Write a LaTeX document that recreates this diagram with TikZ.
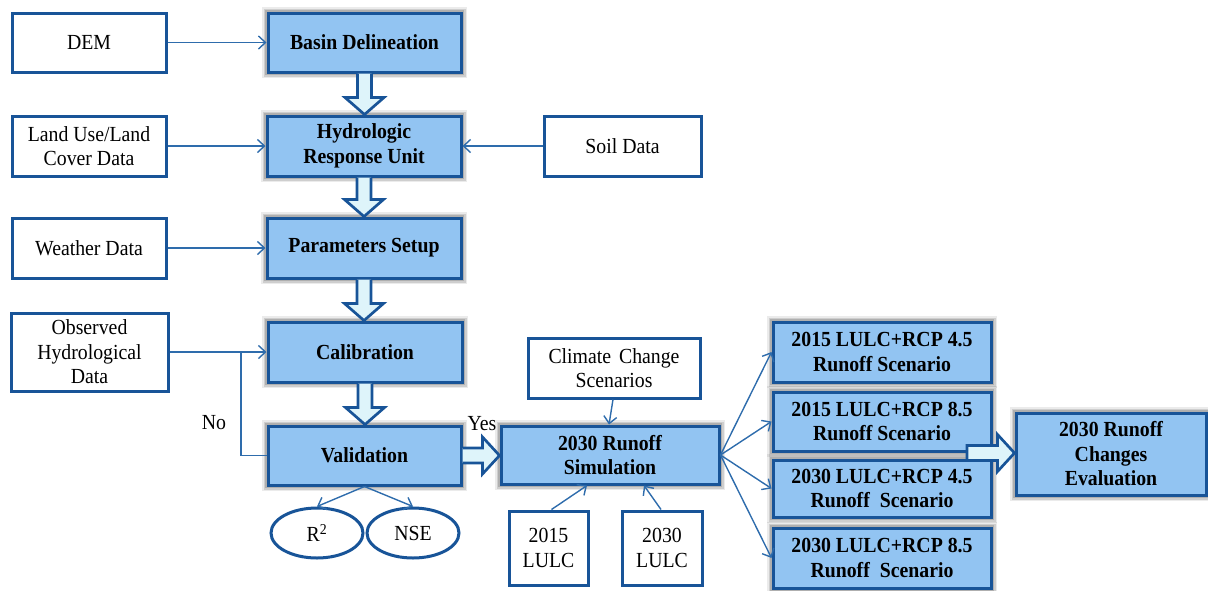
\documentclass[tikz,border=0pt]{standalone}
\usepackage{fontspec}
\setmainfont{Liberation Serif}[FakeStretch=0.92]
\usetikzlibrary{arrows.meta,calc,shapes.geometric}
\definecolor{bdr}{RGB}{24,84,152}
\definecolor{bfill}{RGB}{146,196,242}
\definecolor{afill}{RGB}{222,244,250}
\definecolor{lncol}{RGB}{46,108,172}
\newcommand{\fatdown}[2]{%
  \draw[fat] let \p1=(#1.south), \p2=(#2.north) in
    (\x1-7pt,\y1) -- (\x1-7pt,\y2+17pt) -- (\x1-19.5pt,\y2+17pt) -- (\x1,\y2)
    -- (\x1+19.5pt,\y2+17pt) -- (\x1+7pt,\y2+17pt) -- (\x1+7pt,\y1);}
\newcommand{\fatright}[2]{%
  \draw[fat] let \p1=(#1), \p2=(#2) in
    (\x1,\y1+7.5pt) -- (\x2-17pt,\y1+7.5pt) -- (\x2-17pt,\y1+18.5pt) -- (\x2,\y1)
    -- (\x2-17pt,\y1-18.5pt) -- (\x2-17pt,\y1-7.5pt) -- (\x1,\y1-7.5pt);}
\newcommand{\fatrightc}[2]{%
  \draw[fat] let \p1=(#1), \p2=(#2) in
    (\x1,\y1+7.5pt) -- (\x2-17pt,\y1+7.5pt) -- (\x2-17pt,\y1+18.5pt) -- (\x2,\y1)
    -- (\x2-17pt,\y1-18.5pt) -- (\x2-17pt,\y1-7.5pt) -- (\x1,\y1-7.5pt) -- cycle;}
\begin{document}
\begin{tikzpicture}[x=1pt,y=-1pt,
  every node/.style={font=\fontsize{21.5}{24.5}\selectfont, align=center, inner sep=0pt},
  wbox/.style={draw=bdr, line width=3pt, fill=white},
  bbox/.style={draw=bdr, line width=3pt, fill=bfill,
    font=\fontsize{21.5}{24.5}\selectfont\bfseries,
    preaction={draw=black, draw opacity=0.08, line width=12pt},
    preaction={draw=black, draw opacity=0.12, line width=9pt},
    preaction={draw=black, draw opacity=0.15, line width=6pt}},
  wel/.style={ellipse, draw=bdr, line width=3pt, fill=white},
  arr/.style={draw=lncol, line width=1.4pt, -{Straight Barb[length=7pt,width=13pt]}},
  plain/.style={draw=lncol, line width=1.4pt},
  fat/.style={draw=bdr, line width=2.7pt, fill=afill, line join=miter},
  lbl/.style={font=\fontsize{21.5}{24.5}\selectfont}
]
\useasboundingbox (0,0) rectangle (1208,590);

% left input boxes
\node[wbox, minimum width=154pt, minimum height=59pt] (dem) at (89,42.5) {DEM};
\node[wbox, minimum width=154pt, minimum height=60pt] (lu) at (89,146) {Land Use/Land\\Cover Data};
\node[wbox, minimum width=154pt, minimum height=60pt] (wd) at (89,248) {Weather Data};
\node[wbox, minimum width=157pt, minimum height=78pt] (obs) at (89.5,352) {Observed\\Hydrological\\Data};
\node[wbox, minimum width=157pt, minimum height=60pt] (soil) at (622.5,146) {Soil Data};

% main chain
\node[bbox, minimum width=193pt, minimum height=59pt] (bd) at (364.5,42.5) {Basin Delineation};
\node[bbox, minimum width=194pt, minimum height=60pt] (hru) at (364,146) {Hydrologic\\Response Unit};
\node[bbox, minimum width=194pt, minimum height=60pt] (ps) at (364,248) {Parameters Setup};
\node[bbox, minimum width=194pt, minimum height=60pt] (cal) at (365,352) {Calibration};
\node[bbox, minimum width=193pt, minimum height=59pt] (val) at (364.5,455.5) {Validation};

\node[wel, minimum width=92pt, minimum height=50pt] (r2) at (317,533) {R\textsuperscript{2}};
\node[wel, minimum width=92pt, minimum height=50pt] (nse) at (413,533) {NSE};

% simulation
\node[wbox, minimum width=172pt, minimum height=60pt] (ccs) at (614,368) {Climate\hspace{3pt} Change\\Scenarios};
\node[bbox, minimum width=218pt, minimum height=58pt] (sim) at (610,455) {2030 Runoff\\Simulation};
\node[wbox, minimum width=79pt, minimum height=74pt] (l15) at (548.5,548) {2015\\LULC};
\node[wbox, minimum width=80pt, minimum height=74pt] (l30) at (662,548) {2030\\LULC};

% scenarios
\node[bbox, minimum width=218pt, minimum height=60pt] (s1) at (882,352) {2015 LULC+RCP 4.5\\Runoff Scenario};
\node[bbox, minimum width=218pt, minimum height=59pt] (s2) at (882,421.5) {2015 LULC+RCP 8.5\\Runoff Scenario};
\node[bbox, minimum width=218pt, minimum height=57pt] (s3) at (882,488.5) {2030 LULC+RCP 4.5\\Runoff\hspace{5pt} Scenario};
\node[bbox, minimum width=218pt, minimum height=60pt] (s4) at (882,558) {2030 LULC+RCP 8.5\\Runoff\hspace{5pt} Scenario};
\node[bbox, minimum width=190pt, minimum height=82pt] (ev) at (1111,454) {2030 Runoff\\Changes\\Evaluation};

% labels
\node[lbl] (no) at (214,423) {No};
\node[lbl] (yes) at (482,424) {Yes};

% thin connectors
\draw[arr] (dem) -- (bd);
\draw[arr] (lu) -- (hru);
\draw[arr] (soil) -- (hru);
\draw[arr] (wd) -- (ps);
\draw[arr] (obs) -- (cal);
\coordinate (loop) at (241,352);
\draw[plain] (val.west) -| (loop);
\draw[arr] (val.south) -- (r2.north);
\draw[arr] (val.south) -- (nse.north);
\draw[arr] ($(ccs.south)+(-1,0)$) -- ($(sim.north)+(-1,0)$);
\draw[arr] ($(l15.north)+(3,0)$) -- ($(sim.south)+(-23,0)$);
\draw[arr] ($(l30.north)+(-1,0)$) -- ($(sim.south)+(34,0)$);
\draw[arr] (sim.east) -- (s1.west);
\draw[arr] (sim.east) -- (s2.west);
\draw[arr] (sim.east) -- (s3.west);
\draw[arr] (sim.east) -- (s4.west);

% fat arrows
\fatdown{bd}{hru}
\fatdown{hru}{ps}
\fatdown{ps}{cal}
\fatdown{cal}{val}
\fatright{val.east}{sim.west}
\coordinate (evs) at (967,453);
\fatrightc{evs}{ev.west}
\end{tikzpicture}
\end{document}
